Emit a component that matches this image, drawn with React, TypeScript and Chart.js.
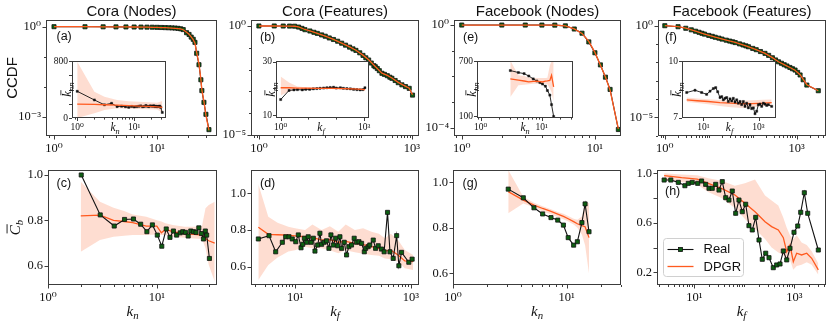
import React, { useEffect, useRef } from "react";
import { Chart, registerables } from "chart.js";
Chart.register(...registerables);

// ------------------------------------------------------------------ data
// (a) Cora (Nodes) CCDF
const coraNodeK = [1,2,3,4,5,6,7,8,9,10,11,12,13,14,15,16,17,18,19.4,20.5,21.5,22.5,23.4,24.3,25.6,26.7,27.3,28.6,29.9,32];
const coraNodeCcdfReal = [1.0,0.995,0.99,0.985,0.98,0.975,0.97,0.965,0.96,0.95,0.94,0.93,0.92,0.91,0.9,0.88,0.85,0.8,0.63,0.55,0.45,0.38,0.3,0.13,0.054,0.017,0.0074,0.003,0.0012,0.00037];
const coraNodeCcdfDpgr = [1.0,0.997,0.992,0.987,0.982,0.976,0.97,0.963,0.955,0.946,0.936,0.925,0.913,0.9,0.885,0.865,0.84,0.79,0.65,0.56,0.46,0.37,0.28,0.14,0.058,0.018,0.0078,0.0032,0.0011,0.00035];
// (a) inset: average neighbour degree
const coraNodeKnnK = [1,2,3,4,5,6,7,8,9,10,11,12,13,14,15,16,17,18,19,20,21,22,23,24,25,26,27,28,29,31];
const coraNodeKnnReal = [375,253,185,206,160,165,158,150,162,155,160,165,170,158,162,175,165,160,170,168,165,172,160,165,158,163,160,168,150,78];
const coraNodeKnnBandK = [1,2,3,5,8,12,18,25,31];
const coraNodeKnnDpgr = [196,192,186,180,174,168,162,156,150];
const coraNodeKnnLo = [0,66,112,136,130,126,122,118,80];
const coraNodeKnnHi = [790,369,300,253,235,229,220,215,240];

// (b) Cora (Features) CCDF
const coraFeatK = [1,2,3,4,5,6,7,8,10,12,14,17,20,24,29,35,42,50,60,70,80,95,110,125,142,160,180,192,210,230,259,290,330,370,406,470,540,638,750,887,1030];
const coraFeatCcdfReal = [1.0,1.0,0.995,0.989,0.977,0.891,0.776,0.676,0.589,0.513,0.457,0.389,0.339,0.282,0.24,0.2,0.162,0.132,0.107,0.0891,0.0759,0.0589,0.0447,0.0347,0.0275,0.02,0.0151,0.0135,0.0112,0.00891,0.00676,0.00603,0.00525,0.00447,0.00398,0.00316,0.00251,0.002,0.00166,0.00138,0.000676];
const coraFeatDpgrK = [1,2,3,4,5,6,8,10,14,20,29,42,60,80,110,142,192,259,330,406,540,638,887,1030];
const coraFeatCcdfDpgr = [1.0,0.998,0.993,0.985,0.97,0.9,0.69,0.6,0.46,0.345,0.245,0.165,0.11,0.077,0.046,0.028,0.0138,0.0069,0.0054,0.0041,0.0026,0.0021,0.0014,0.0007];
// (b) inset
const coraFeatKnnK = [1,2,3,4,6,8,11,15,20,26,35,46,60,80,100,140,180,240,320,420,550,720,900,1070];
const coraFeatKnnReal = [15.8,19.2,19.4,19.5,19.4,19.6,19.6,19.8,19.9,20.0,20.1,20.2,20.3,20.4,20.1,20.2,20.0,19.9,19.8,19.6,19.5,19.4,19.5,20.2];
const coraFeatKnnBandK = [1,2,4,8,20,60,200,600,1070];
const coraFeatKnnDpgr = [20.2,20.2,20.1,20.1,20.0,20.0,19.9,19.7,19.5];
const coraFeatKnnLo = [17.3,18.8,19.6,19.7,19.7,19.7,19.6,19.4,19.1];
const coraFeatKnnHi = [24.4,22.2,20.7,20.4,20.3,20.3,20.2,20.0,19.9];

// (e) Facebook (Nodes) CCDF
const fbNodeK = [1,2,3,4,5,6,7,8,9,10,11,12,13,15];
const fbNodeCcdfReal = [1.0,1.0,0.999,0.997,0.99,0.93,0.7,0.48,0.22,0.083,0.028,0.0093,0.0031,0.000085];
const fbNodeCcdfDpgr = [1.0,1.0,0.999,0.996,0.985,0.92,0.71,0.47,0.23,0.086,0.027,0.0095,0.0029,0.00009];
// (g) + (e) inset share the same degree bins
const fbNodeBinK = [3.06,4.15,5.15,6.14,7.27,8.33,9.35,10.3,11.5,12.4,13.6,14.5,15.7];
const fbNodeKnnReal = [600,578,566,540,508,485,468,452,428,380,330,225,95];
const fbNodeKnnDpgr = [508,495,485,476,480,483,478,474,483,486,492,547,420];
const fbNodeKnnLo = [310,438,445,450,455,456,456,456,456,450,402,365,256];
const fbNodeKnnHi = [710,547,539,520,518,518,518,518,518,520,656,700,700];

// (f) Facebook (Features) CCDF
const fbFeatK = [1,2,3,4,5,6,7,8,10,12,14,17,20,25,30,35,40,50,60,70,80,100,120,150,190,230,280,330,385,450,520,600,700,800,917,1050,1195,1400,1700,3100];
const fbFeatCcdfReal = [1.0,0.881,0.724,0.596,0.501,0.437,0.385,0.347,0.295,0.263,0.234,0.209,0.186,0.162,0.145,0.132,0.12,0.102,0.0891,0.0794,0.0708,0.0575,0.049,0.0389,0.0309,0.024,0.0178,0.0135,0.0107,0.00891,0.00741,0.00631,0.00525,0.00447,0.0038,0.00282,0.00204,0.00112,0.000575,0.000282];
const fbFeatDpgrK = [1,2,3,5,8,14,25,40,70,120,190,280,385,520,700,917,1195,1700,3100];
const fbFeatCcdfDpgr = [1.0,0.89,0.73,0.5,0.35,0.236,0.165,0.122,0.08,0.049,0.031,0.018,0.0108,0.0075,0.0052,0.0037,0.0021,0.0006,0.00028];
// (f) inset
const fbFeatKnnK = [2.5,5,8.7,13.2,17.5,23.1,28.1,33.2,40.3,46.3,53.2,61.1,70.3,80.7,92.7,107,122,141,162,186,214,245,282,324,373,428,492,565,650,746,858,986,1133,1302,1496,1720,1977,2271,3000];
const fbFeatKnnReal = [8.34,8.46,8.34,8.24,8.41,8.55,8.6,8.38,8.07,8.12,7.95,8.03,8.07,7.86,8.0,7.89,8.03,7.83,7.95,7.77,7.86,7.69,7.86,7.6,7.77,7.52,7.69,7.48,7.52,7.21,7.34,7.69,7.72,7.6,7.77,7.72,7.65,7.69,7.6];
const fbFeatKnnBandK = [2.5,6,15,40,100,250,600,1500,3000];
const fbFeatKnnDpgr = [7.95,7.9,7.86,7.8,7.77,7.74,7.75,7.77,7.8];
const fbFeatKnnLo = [7.83,7.78,7.72,7.62,7.55,7.52,7.56,7.62,7.66];
const fbFeatKnnHi = [8.07,8.02,7.98,7.94,7.92,7.9,7.93,7.95,7.97];

// (c) Cora (Nodes) clustering
const coraNodeCbK = [2.02,3.02,4.06,5.05,6.1,7.1,8.1,9.1,10.1,11.1,12.2,13.2,14.2,15.2,16.4,17.3,18.3,19.4,20.5,21.7,22.9,24.3,25.7,26.8,27.9,28.7,30.4];
const coraNodeCbReal = [1.0,0.824,0.775,0.804,0.806,0.783,0.75,0.78,0.735,0.686,0.762,0.725,0.753,0.735,0.745,0.75,0.747,0.731,0.753,0.75,0.747,0.767,0.742,0.718,0.753,0.735,0.632];
const coraNodeCbBandK = [2,3,4,5,6,8,10,11,12,14,18,22,26,28,30,34];
const coraNodeCbDpgr = [0.82,0.823,0.8,0.795,0.79,0.775,0.775,0.745,0.76,0.75,0.74,0.738,0.735,0.72,0.71,0.7];
const coraNodeCbLo = [0.662,0.713,0.728,0.732,0.735,0.735,0.738,0.735,0.735,0.728,0.723,0.72,0.718,0.677,0.603,0.53];
const coraNodeCbHi = [0.97,0.882,0.856,0.841,0.826,0.816,0.801,0.795,0.787,0.779,0.772,0.772,0.775,0.853,0.868,0.882];

// (d) Cora (Features) clustering
const coraFeatCbK = [2.33,3.56,4.64,6.05,6.9,7.87,8.97,10.3,11.4,12.7,13.6,14.5,15.9,16.9,18.9,20.7,22.1,24.6,26.9,28.8,31.9,35,38.5,41.7,45.7,50.3,54.5,59.6,63.7,70.7,77.6,85,94.5,105,115,127,141,157,166,183,195,224,246,273,311,345,395,435,495,568,620,690,920,1050];
const coraFeatCbReal = [0.751,0.769,0.681,0.733,0.763,0.763,0.751,0.736,0.773,0.703,0.722,0.755,0.733,0.763,0.733,0.755,0.685,0.718,0.782,0.722,0.733,0.741,0.7,0.773,0.718,0.755,0.714,0.763,0.7,0.733,0.664,0.709,0.718,0.755,0.733,0.736,0.727,0.681,0.7,0.709,0.718,0.745,0.7,0.714,0.696,0.681,0.896,0.681,0.645,0.769,0.605,0.678,0.624,0.641];
const coraFeatCbBandK = [2.33,3.46,5,7.66,10,14.9,20,28.8,40,55.8,75,108,150,209,280,357,450,600,786,1090];
const coraFeatCbDpgr = [0.815,0.776,0.774,0.772,0.768,0.763,0.76,0.745,0.748,0.733,0.738,0.727,0.72,0.709,0.7,0.685,0.69,0.664,0.631,0.627];
const coraFeatCbLo = [0.527,0.609,0.65,0.682,0.69,0.709,0.7,0.7,0.69,0.673,0.69,0.678,0.67,0.664,0.66,0.645,0.64,0.627,0.591,0.582];
const coraFeatCbHi = [1.049,0.872,0.84,0.818,0.81,0.8,0.83,0.8,0.82,0.79,0.83,0.8,0.81,0.79,0.78,0.755,0.78,0.745,0.691,0.664];

// (g) Facebook (Nodes) clustering
const fbNodeCbReal = [0.97,0.932,0.888,0.861,0.845,0.834,0.812,0.757,0.724,0.739,0.823,0.905,0.783];
const fbNodeCbDpgr = [0.959,0.922,0.9,0.885,0.872,0.86,0.85,0.84,0.827,0.818,0.81,0.805,0.757];
const fbNodeCbLo = [0.864,0.907,0.89,0.872,0.86,0.848,0.838,0.828,0.815,0.8,0.77,0.724,0.6];
const fbNodeCbHi = [1.054,0.936,0.91,0.895,0.882,0.87,0.862,0.852,0.84,0.835,0.85,0.916,0.908];

// (h) Facebook (Features) clustering
const fbFeatCbK = [2.5,3.4,4.8,6.5,7.6,9.1,11.7,14,16.9,19.7,22.9,26.8,31.2,36.3,42.5,49.4,57.5,67.3,78.3,91.2,106.6,124,144.5,169,197,229,268,312,380,444,518,603,705,820,986,1170,1343,1585,1853,3020];
const fbFeatCbReal = [0.946,0.946,0.927,0.9,0.919,0.927,0.919,0.938,0.911,0.879,0.879,0.911,0.865,0.933,0.803,0.784,0.857,0.677,0.784,0.69,0.75,0.577,0.542,0.644,0.461,0.305,0.354,0.318,0.237,0.259,0.267,0.372,0.3,0.394,0.523,0.574,0.685,0.843,0.677,0.38];
const fbFeatCbBandK = [2.5,5.6,11.5,19,35,65,103,164,260,352,479,603,705,820,955,1115,1400,1770,2225,3020];
const fbFeatCbDpgr = [0.981,0.965,0.954,0.919,0.879,0.825,0.758,0.69,0.609,0.569,0.542,0.48,0.366,0.42,0.286,0.354,0.34,0.354,0.313,0.219];
const fbFeatCbLo = [0.945,0.93,0.91,0.85,0.8,0.72,0.63,0.55,0.47,0.4,0.36,0.34,0.28,0.3,0.22,0.25,0.26,0.28,0.26,0.18];
const fbFeatCbHi = [1.0,0.99,0.985,0.96,0.94,0.9,0.92,0.95,0.82,0.78,0.74,0.64,0.56,0.5,0.47,0.5,0.44,0.42,0.37,0.27];

// tick label values
const cbTickValues = [0.6, 0.8, 1.0];
const fbFeatCbTickValues = [0.2, 0.4, 0.6, 0.8, 1.0];
const fbFeatCbTickLabelled = [0.2, 0.6, 1.0];

// ------------------------------------------------------------------ style
const SERIF = '"Liberation Serif", "DejaVu Serif", serif';
const SANS = '"Liberation Sans", Arial, sans-serif';
const ORANGE = "#ff5a1f";
const BAND = "rgba(250,130,85,0.27)";
const GREEN = "#0d5f12";
const FRAME = "#3c3c3c";
const INK = "#111";

type Tick = { v: number; label: string; minor: boolean };

const SUPS: Record<string, string> = { "0": "⁰", "1": "¹", "2": "²", "3": "³", "4": "⁴", "5": "⁵", "6": "⁶", "7": "⁷", "8": "⁸", "9": "⁹", "-": "⁻" };
const pow10Label = (e: number) => "10" + String(e).split("").map((c) => SUPS[c] ?? c).join("");

function logTicks(lo: number, hi: number, labelled: number[], minors: boolean): Tick[] {
  const out: Tick[] = [];
  for (let d = Math.floor(Math.log10(lo)); d <= Math.ceil(Math.log10(hi)); d++) {
    for (let m = 1; m <= 9; m++) {
      const v = m * Math.pow(10, d);
      if (v < lo || v > hi) continue;
      if (m === 1) {
        const lab = labelled.includes(d);
        out.push({ v, label: lab ? pow10Label(d) : "", minor: !lab });
      } else if (minors) out.push({ v, label: "", minor: true });
    }
  }
  return out;
}
function linTicks(values: number[], labelled: number[], digits: number): Tick[] {
  return values.map((v) => ({ v, label: labelled.includes(v) ? v.toFixed(digits) : "", minor: false }));
}

const pts = (xs: number[], ys: number[]) => xs.map((x, i) => ({ x, y: ys[i] }));
function realSet(xs: number[], ys: number[], small: boolean, order: number) {
  return {
    label: "Real", data: pts(xs, ys), borderColor: INK, borderWidth: small ? 0.9 : 1.1,
    pointStyle: "rect", pointRadius: small ? 1.5 : 2.9, pointBackgroundColor: small ? INK : GREEN,
    pointBorderColor: INK, pointBorderWidth: small ? 0.4 : 0.8, fill: false, order,
  };
}
function dpgrSet(xs: number[], ys: number[], order: number) {
  return { label: "DPGR", data: pts(xs, ys), borderColor: ORANGE, borderWidth: 1.3, pointRadius: 0, fill: false, order };
}
function bandSets(xs: number[], lo: number[], hi: number[]) {
  return [
    { label: "band-hi", data: pts(xs, hi), borderWidth: 0, borderColor: "rgba(0,0,0,0)", pointRadius: 0, fill: "+1", backgroundColor: BAND, order: 5 },
    { label: "band-lo", data: pts(xs, lo), borderWidth: 0, borderColor: "rgba(0,0,0,0)", pointRadius: 0, fill: false, order: 4 },
  ];
}

// ------------------------------------------------------------------ text helpers
type Ctx = CanvasRenderingContext2D;
function txt(ctx: Ctx, s: string, x: number, y: number, font: string, align: CanvasTextAlign = "left", rotate = false, baseline: CanvasTextBaseline = "middle") {
  ctx.save();
  ctx.translate(x, y);
  if (rotate) ctx.rotate(-Math.PI / 2);
  ctx.font = font;
  ctx.fillStyle = INK;
  ctx.textAlign = align;
  ctx.textBaseline = baseline;
  ctx.fillText(s, 0, 0);
  ctx.restore();
}
function mathLabel(ctx: Ctx, x: number, y: number, base: string, sub: string, size: number, rotate: boolean, bar: boolean) {
  ctx.save();
  ctx.translate(x, y);
  if (rotate) ctx.rotate(-Math.PI / 2);
  const bf = `italic ${size}px ${SERIF}`;
  const sf = `italic ${size * 0.72}px ${SERIF}`;
  ctx.font = bf;
  const wb = ctx.measureText(base).width;
  ctx.font = sf;
  const ws = ctx.measureText(sub).width;
  const x0 = -(wb + ws) / 2;
  const by = size * 0.3;
  ctx.fillStyle = INK;
  ctx.textAlign = "left";
  ctx.textBaseline = "alphabetic";
  ctx.font = bf;
  ctx.fillText(base, x0, by);
  if (bar) ctx.fillRect(x0 + size * 0.12, by - size * 0.86, wb * 0.92, Math.max(0.8, size * 0.06));
  ctx.font = sf;
  ctx.fillText(sub, x0 + wb, by + size * 0.2);
  ctx.restore();
}

// ------------------------------------------------------------------ panels
type P = (x: number, y: number) => [number, number];
interface Spec {
  id: string;
  box: [number, number, number, number];
  pad: [number, number, number, number];
  yType: "logarithmic" | "linear";
  xRange: [number, number];
  yRange: [number, number];
  xTicks: Tick[];
  yTicks: Tick[];
  font: number;
  inset?: boolean;
  datasets: any[];
  draw?: (ctx: Ctx, p: P) => void;
}

function makeConfig(spec: Spec): any {
  const [pl, pt, pr, pb] = spec.pad;
  const tl = spec.inset ? 3 : 3.5;
  const axis = (pos: "bottom" | "left", type: string, range: [number, number], ticks: Tick[]) => ({
    type, position: pos, min: range[0], max: range[1],
    grid: { display: false, drawTicks: true, tickLength: tl },
    border: { display: false },
    ticks: {
      autoSkip: false, maxRotation: 0, minRotation: 0, padding: spec.inset ? 1 : 1.5, color: INK,
      font: { family: SERIF, size: spec.font },
      callback: (_v: any, i: number) => (ticks[i] ? ticks[i].label : ""),
    },
    afterBuildTicks: (s: any) => { s.ticks = ticks.map((t) => ({ value: t.v })); },
    afterFit: (s: any) => {
      if (pos === "bottom") s.height = pb; else s.width = pl;
      s.paddingLeft = 0; s.paddingRight = 0; s.paddingTop = 0; s.paddingBottom = 0;
    },
  });
  const decor = {
    id: "decor" + spec.id,
    beforeDraw(chart: any) {
      if (!spec.inset) return;
      const a = chart.chartArea;
      chart.ctx.save();
      chart.ctx.fillStyle = "#fff";
      chart.ctx.fillRect(a.left, a.top, a.right - a.left, a.bottom - a.top);
      chart.ctx.restore();
    },
    afterDraw(chart: any) {
      const ctx: Ctx = chart.ctx;
      const a = chart.chartArea;
      const xs = chart.scales.x, ys = chart.scales.y;
      ctx.save();
      ctx.strokeStyle = FRAME;
      ctx.lineWidth = 1;
      const major = spec.inset ? 3 : 3.5, minor = spec.inset ? 1.6 : 2;
      ctx.beginPath();
      spec.xTicks.forEach((t) => {
        const px = Math.round(xs.getPixelForValue(t.v)) + 0.5;
        ctx.moveTo(px, a.bottom);
        ctx.lineTo(px, a.bottom + (t.minor ? minor : major));
      });
      spec.yTicks.forEach((t) => {
        const py = Math.round(ys.getPixelForValue(t.v)) + 0.5;
        ctx.moveTo(a.left, py);
        ctx.lineTo(a.left - (t.minor ? minor : major), py);
      });
      ctx.stroke();
      ctx.strokeRect(a.left + 0.5, a.top + 0.5, a.right - a.left - 1, a.bottom - a.top - 1);
      ctx.restore();
      if (spec.draw) {
        const p: P = (x, y) => [x - spec.box[0] + a.left, y - spec.box[1] + a.top];
        spec.draw(ctx, p);
      }
    },
  };
  return {
    type: "line",
    data: { datasets: spec.datasets },
    options: {
      responsive: false, animation: false, devicePixelRatio: 1, events: [],
      layout: { padding: { left: 0, top: pt, right: pr, bottom: 0 } },
      plugins: { legend: { display: false }, tooltip: { enabled: false }, title: { display: false } },
      elements: { line: { tension: 0 } },
      scales: {
        x: axis("bottom", "logarithmic", spec.xRange, spec.xTicks),
        y: axis("left", spec.yType, spec.yRange, spec.yTicks),
      },
    },
    plugins: [decor],
  };
}

function Panel({ spec }: { spec: Spec }) {
  const ref = useRef<HTMLCanvasElement>(null);
  const [l, t, w, h] = spec.box;
  const [pl, pt, pr, pb] = spec.pad;
  const cw = w + pl + pr, ch = h + pt + pb;
  useEffect(() => {
    const chart = new Chart(ref.current as HTMLCanvasElement, makeConfig(spec));
    return () => chart.destroy();
  }, []);
  return <canvas ref={ref} width={cw} height={ch} style={{ position: "absolute", left: l - pl, top: t - pt, width: cw, height: ch }} />;
}

const MAIN_PAD: [number, number, number, number] = [44, 20, 10, 36];
const INSET_PAD: [number, number, number, number] = [30, 6, 10, 18];
const TITLE = `15px ${SANS}`;
const TAG = `12.5px ${SANS}`;

function knnLabels(sub: string, ylx: number, xlx: number) {
  return (ctx: Ctx, p: P) => {
    mathLabel(ctx, ...p(ylx, 89.5), "k", "nn", 12.5, true, true);
    mathLabel(ctx, ...p(xlx, 128), "k", sub, 11.5, false, false);
  };
}

const specs: Spec[] = [
  {
    id: "a", box: [46, 20, 171, 116], pad: MAIN_PAD, yType: "logarithmic",
    xRange: [0.836, 38.3], yRange: [2.27e-4, 1.67], font: 12.5,
    xTicks: logTicks(0.836, 38.3, [0, 1], true), yTicks: logTicks(2.27e-4, 1.67, [0, -3], false),
    datasets: [realSet(coraNodeK, coraNodeCcdfReal, false, 1), dpgrSet(coraNodeK, coraNodeCcdfDpgr, 0)],
    draw: (ctx, p) => {
      txt(ctx, "Cora (Nodes)", ...p(131.5, 16), TITLE, "center", false, "alphabetic");
      txt(ctx, "(a)", ...p(56.5, 37), TAG);
      txt(ctx, "CCDF", ...p(12.5, 78), TITLE, "center", true);
    },
  },
  {
    id: "b", box: [251, 20, 168, 116], pad: MAIN_PAD, yType: "logarithmic",
    xRange: [0.73, 1380], yRange: [9.0e-6, 1.88], font: 12.5,
    xTicks: logTicks(0.73, 1380, [0, 3], true), yTicks: logTicks(9.0e-6, 1.88, [0, -5], false),
    datasets: [realSet(coraFeatK, coraFeatCcdfReal, false, 1), dpgrSet(coraFeatDpgrK, coraFeatCcdfDpgr, 0)],
    draw: (ctx, p) => {
      txt(ctx, "Cora (Features)", ...p(335, 16), TITLE, "center", false, "alphabetic");
      txt(ctx, "(b)", ...p(260, 37.5), TAG);
    },
  },
  {
    id: "e", box: [454, 20, 167, 116], pad: MAIN_PAD, yType: "logarithmic",
    xRange: [0.875, 15.7], yRange: [4.75e-5, 1.57], font: 12.5,
    xTicks: logTicks(0.875, 15.7, [0, 1], true), yTicks: logTicks(4.75e-5, 1.57, [0, -4], false),
    datasets: [realSet(fbNodeK, fbNodeCcdfReal, false, 1), dpgrSet(fbNodeK, fbNodeCcdfDpgr, 0)],
    draw: (ctx, p) => {
      txt(ctx, "Facebook (Nodes)", ...p(537.5, 16), TITLE, "center", false, "alphabetic");
      txt(ctx, "(e)", ...p(463, 37.5), TAG);
    },
  },
  {
    id: "f", box: [658, 20, 168, 116], pad: MAIN_PAD, yType: "logarithmic",
    xRange: [0.72, 4640], yRange: [9.5e-7, 2.05], font: 12.5,
    xTicks: logTicks(0.72, 4640, [0, 3], true), yTicks: logTicks(9.5e-7, 2.05, [0, -5], false),
    datasets: [realSet(fbFeatK, fbFeatCcdfReal, false, 1), dpgrSet(fbFeatDpgrK, fbFeatCcdfDpgr, 0)],
    draw: (ctx, p) => {
      txt(ctx, "Facebook (Features)", ...p(742, 16), TITLE, "center", false, "alphabetic");
      txt(ctx, "(f)", ...p(665, 38), TAG);
    },
  },
  {
    id: "c", box: [48, 170, 169, 115], pad: MAIN_PAD, yType: "linear",
    xRange: [1, 35.7], yRange: [0.515, 1.022], font: 12.5,
    xTicks: logTicks(1, 35.7, [0, 1], true), yTicks: linTicks(cbTickValues, cbTickValues, 1),
    datasets: [...bandSets(coraNodeCbBandK, coraNodeCbLo, coraNodeCbHi), realSet(coraNodeCbK, coraNodeCbReal, false, 0), dpgrSet(coraNodeCbBandK, coraNodeCbDpgr, 1)],
    draw: (ctx, p) => {
      txt(ctx, "(c)", ...p(56.5, 184), TAG);
      mathLabel(ctx, ...p(15, 227.5), "C", "b", 15, true, true);
      mathLabel(ctx, ...p(132.5, 311), "k", "n", 15, false, false);
    },
  },
  {
    id: "d", box: [251, 170, 168, 115], pad: MAIN_PAD, yType: "linear",
    xRange: [1.74, 1380], yRange: [0.5, 1.127], font: 12.5,
    xTicks: logTicks(1.74, 1380, [1, 3], true), yTicks: linTicks(cbTickValues, cbTickValues, 1),
    datasets: [...bandSets(coraFeatCbBandK, coraFeatCbLo, coraFeatCbHi), realSet(coraFeatCbK, coraFeatCbReal, false, 0), dpgrSet(coraFeatCbBandK, coraFeatCbDpgr, 1)],
    draw: (ctx, p) => {
      txt(ctx, "(d)", ...p(260, 184), TAG);
      mathLabel(ctx, ...p(335, 311), "k", "f", 15, false, false);
    },
  },
  {
    id: "g", box: [453, 170, 168, 115], pad: MAIN_PAD, yType: "linear",
    xRange: [1, 30], yRange: [0.549, 1.054], font: 12.5,
    xTicks: logTicks(1, 30, [0, 1], true), yTicks: linTicks(cbTickValues, cbTickValues, 1),
    datasets: [...bandSets(fbNodeBinK, fbNodeCbLo, fbNodeCbHi), realSet(fbNodeBinK, fbNodeCbReal, false, 0), dpgrSet(fbNodeBinK, fbNodeCbDpgr, 1)],
    draw: (ctx, p) => {
      txt(ctx, "(g)", ...p(462.5, 184), TAG);
      mathLabel(ctx, ...p(537, 311), "k", "n", 15, false, false);
    },
  },
  {
    id: "h", box: [657, 170, 169, 115], pad: MAIN_PAD, yType: "linear",
    xRange: [1.8, 4300], yRange: [0.097, 1.027], font: 12.5,
    xTicks: logTicks(1.8, 4300, [1, 3], true), yTicks: linTicks(fbFeatCbTickValues, fbFeatCbTickLabelled, 1),
    datasets: [...bandSets(fbFeatCbBandK, fbFeatCbLo, fbFeatCbHi), realSet(fbFeatCbK, fbFeatCbReal, false, 0), dpgrSet(fbFeatCbBandK, fbFeatCbDpgr, 1)],
    draw: (ctx, p) => {
      txt(ctx, "(h)", ...p(665, 192), TAG);
      mathLabel(ctx, ...p(741.5, 311), "k", "f", 15, false, false);
      // legend
      const [x0, y0] = p(663.5, 238.5);
      const [x1, y1] = p(743.5, 276.5);
      ctx.save();
      ctx.beginPath();
      if ((ctx as any).roundRect) (ctx as any).roundRect(x0, y0, x1 - x0, y1 - y0, 3); else ctx.rect(x0, y0, x1 - x0, y1 - y0);
      ctx.fillStyle = "rgba(255,255,255,0.85)";
      ctx.fill();
      ctx.strokeStyle = "#d0d0d0";
      ctx.lineWidth = 1;
      ctx.stroke();
      const [ra, rb] = p(667.5, 249.5);
      ctx.strokeStyle = INK; ctx.lineWidth = 1.1;
      ctx.beginPath(); ctx.moveTo(ra, rb); ctx.lineTo(ra + 26, rb); ctx.stroke();
      ctx.fillStyle = GREEN; ctx.fillRect(ra + 11, rb - 2, 4, 4);
      ctx.strokeStyle = INK; ctx.lineWidth = 0.8; ctx.strokeRect(ra + 11, rb - 2, 4, 4);
      const [da, db] = p(667.5, 266.5);
      ctx.strokeStyle = ORANGE; ctx.lineWidth = 1.3;
      ctx.beginPath(); ctx.moveTo(da, db); ctx.lineTo(da + 26, db); ctx.stroke();
      ctx.restore();
      txt(ctx, "Real", ...p(703.5, 249.5), `13px ${SANS}`);
      txt(ctx, "DPGR", ...p(703.5, 267), `13px ${SANS}`);
    },
  },
  {
    id: "ia", box: [72, 61, 94, 57], pad: INSET_PAD, yType: "linear", inset: true,
    xRange: [0.81, 36], yRange: [0, 800], font: 9.5,
    xTicks: logTicks(0.81, 36, [0, 1], true), yTicks: linTicks([0, 200, 400, 600, 800], [0, 800], 0),
    datasets: [...bandSets(coraNodeKnnBandK, coraNodeKnnLo, coraNodeKnnHi), realSet(coraNodeKnnK, coraNodeKnnReal, true, 1), dpgrSet(coraNodeKnnBandK, coraNodeKnnDpgr, 0)],
    draw: knnLabels("n", 67.5, 115),
  },
  {
    id: "ib", box: [276, 61, 93, 57], pad: INSET_PAD, yType: "linear", inset: true,
    xRange: [0.68, 1500], yRange: [8.9, 30.2], font: 9.5,
    xTicks: logTicks(0.68, 1500, [0, 3], false), yTicks: linTicks([10, 20, 30], [10, 30], 0),
    datasets: [...bandSets(coraFeatKnnBandK, coraFeatKnnLo, coraFeatKnnHi), realSet(coraFeatKnnK, coraFeatKnnReal, true, 1), dpgrSet(coraFeatKnnBandK, coraFeatKnnDpgr, 0)],
    draw: knnLabels("f", 271.5, 321),
  },
  {
    id: "ie", box: [477, 61, 96, 57], pad: INSET_PAD, yType: "linear", inset: true,
    xRange: [0.87, 32.6], yRange: [78, 705], font: 9.5,
    xTicks: logTicks(0.87, 32.6, [0, 1], true), yTicks: linTicks([100, 400, 700], [100, 700], 0),
    datasets: [...bandSets(fbNodeBinK, fbNodeKnnLo, fbNodeKnnHi), realSet(fbNodeBinK, fbNodeKnnReal, true, 1), dpgrSet(fbNodeBinK, fbNodeKnnDpgr, 0)],
    draw: knnLabels("n", 472.5, 525),
  },
  {
    id: "if", box: [682, 61, 94, 57], pad: INSET_PAD, yType: "linear", inset: true,
    xRange: [1.69, 4300], yRange: [6.98, 10.02], font: 9.5,
    xTicks: logTicks(1.69, 4300, [1, 3], false), yTicks: linTicks([7, 8.5, 10], [7, 10], 0),
    datasets: [...bandSets(fbFeatKnnBandK, fbFeatKnnLo, fbFeatKnnHi), realSet(fbFeatKnnK, fbFeatKnnReal, true, 0), dpgrSet(fbFeatKnnBandK, fbFeatKnnDpgr, 1)],
    draw: knnLabels("f", 677.5, 729.5),
  },
];

export default function App() {
  return (
    <div style={{ position: "fixed", left: 0, top: 0, width: 831, height: 324, background: "#fff", overflow: "hidden" }}>
      {specs.map((s) => (
        <Panel key={s.id} spec={s} />
      ))}
    </div>
  );
}
